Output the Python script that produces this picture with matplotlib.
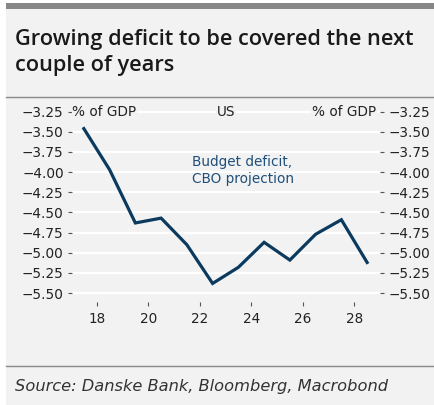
import matplotlib
matplotlib.use("Agg")
import matplotlib.pyplot as plt
from matplotlib.patches import Rectangle
from matplotlib.lines import Line2D

years = [17.5, 18.5, 19.5, 20.5, 21.5, 22.5, 23.5, 24.5, 25.5, 26.5, 27.5, 28.5]
deficit = [-3.46, -3.97, -4.63, -4.57, -4.90, -5.38, -5.18, -4.87, -5.09, -4.77, -4.59, -5.12]
xticks = [18, 20, 22, 24, 26, 28]
yticks = [-3.25, -3.50, -3.75, -4.00, -4.25, -4.50, -4.75, -5.00, -5.25, -5.50]

W, H = 435, 405
fig = plt.figure(figsize=(W / 100, H / 100), dpi=100)
fig.patch.set_facecolor("white")

def fx(px):
    return px / W

def fy(py):
    return 1 - py / H

bg = "#f2f2f2"
txt = "#222222"
FONT = "DejaVu Sans"
fig.add_artist(Rectangle((fx(6), 0), 1 - fx(6), fy(3), transform=fig.transFigure,
                         facecolor=bg, edgecolor="none", zorder=0))
fig.add_artist(Rectangle((fx(6), fy(8.5)), 1 - fx(6), fy(3) - fy(8.5), transform=fig.transFigure,
                         facecolor="#878787", edgecolor="none", zorder=1))
fig.add_artist(Line2D([fx(6), 1], [fy(97), fy(97)], transform=fig.transFigure,
                      color="#8a8a8a", lw=1.0))
fig.add_artist(Line2D([fx(6), 1], [fy(366), fy(366)], transform=fig.transFigure,
                      color="#8a8a8a", lw=1.0))

fig.text(fx(15), fy(40), "Growing deficit to be covered the next", fontsize=15.7,
         fontweight="semibold", family="Open Sans", color="#1a1a1a", va="center", ha="left")
fig.text(fx(15), fy(65), "couple of years", fontsize=15.7,
         fontweight="semibold", family="Open Sans", color="#1a1a1a", va="center", ha="left")
fig.text(fx(15), fy(386), "Source: Danske Bank, Bloomberg, Macrobond", fontsize=11.7,
         style="italic", family=FONT, color="#333333", va="center", ha="left")

left, right, top, bottom = 72, 380, 104, 302
ax = fig.add_axes([fx(left), fy(bottom), fx(right) - fx(left), fy(top) - fy(bottom)])
ax.set_facecolor("none")
ax.set_xlim(17.04, 29.0)
ax.set_ylim(-5.61, -3.155)
for s in ax.spines.values():
    s.set_visible(False)
for y in yticks:
    ax.axhline(y, color="white", lw=1.6, zorder=1)
ax.plot(years, deficit, color="#0b3a5e", lw=2.3, zorder=3, solid_joinstyle="miter")

ax.set_xticks(xticks)
ax.set_xticklabels([str(t) for t in xticks])
ax.set_yticks(yticks)
ax.set_yticklabels(["\u2212%.2f" % abs(v) for v in yticks])
ax.tick_params(axis="x", length=3, width=0.8, color="#555555", direction="out", pad=4,
               labelsize=9.8, labelcolor=txt)
ax.tick_params(axis="y", which="both", length=3, width=0.8, color="#555555", pad=3,
               labelsize=9.8, labelcolor=txt, left=True, right=True,
               labelleft=True, labelright=True)
for lab in ax.get_xticklabels() + ax.get_yticklabels():
    lab.set_family(FONT)

ax.text(17.05, -3.25, "% of GDP", fontsize=9.8, family=FONT, color=txt,
        va="center", ha="left", zorder=4,
        bbox=dict(facecolor=bg, edgecolor="none", pad=0.5))
ax.text(23.03, -3.25, "US", fontsize=9.8, family=FONT, color=txt,
        va="center", ha="center", zorder=4,
        bbox=dict(facecolor=bg, edgecolor="none", pad=0.5))
ax.text(28.85, -3.25, "% of GDP", fontsize=9.8, family=FONT, color=txt,
        va="center", ha="right", zorder=4,
        bbox=dict(facecolor=bg, edgecolor="none", pad=0.5))
ax.text(21.69, -3.875, "Budget deficit,", fontsize=9.8, family=FONT,
        color="#1f4f7a", va="center", ha="left")
ax.text(21.69, -4.085, "CBO projection", fontsize=9.8, family=FONT,
        color="#1f4f7a", va="center", ha="left")

fig.savefig("out.png", dpi=100, facecolor=fig.get_facecolor())
